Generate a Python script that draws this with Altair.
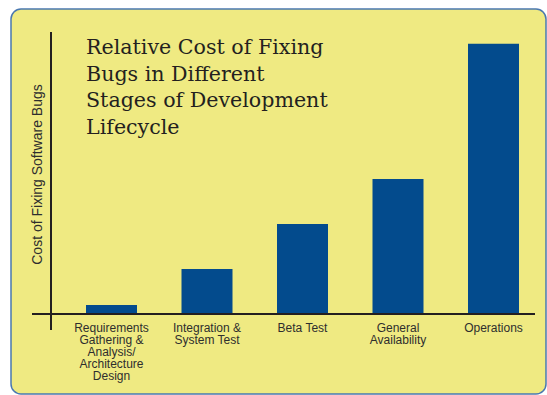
import altair as alt
import pandas as pd

# ---- data ----
STAGES = [
    "Requirements\nGathering &\nAnalysis/\nArchitecture\nDesign",
    "Integration &\nSystem Test",
    "Beta Test",
    "General\nAvailability",
    "Operations",
]
RELATIVE_COST = [1, 5, 10, 15, 30]
TITLE_LINES = [
    "Relative Cost of Fixing",
    "Bugs in Different",
    "Stages of Development",
    "Lifecycle",
]
Y_TITLE = "Cost of Fixing Software Bugs"

df = pd.DataFrame({"stage": STAGES, "cost": RELATIVE_COST})

YELLOW = "#EFEA82"
BAR_BLUE = "#034B8D"
BORDER_BLUE = "#4A78B0"
INK = "#231F20"
LABEL = "#2E2E2E"
SANS = "Liberation Sans, Arial, sans-serif"

W, H = 484, 281

panel = alt.Chart(pd.DataFrame({"p": [0]})).mark_rect(
    fill=YELLOW, stroke=BORDER_BLUE, strokeWidth=1.5, cornerRadius=10
).encode(
    x=alt.value(-40), x2=alt.value(495), y=alt.value(-24), y2=alt.value(361)
)

bars = alt.Chart(df).mark_bar(color=BAR_BLUE).encode(
    x=alt.X(
        "stage:N",
        sort=STAGES,
        scale=alt.Scale(range=[35, 468], paddingInner=0.466, paddingOuter=0),
        axis=alt.Axis(
            title=None,
            domain=False,
            ticks=False,
            grid=False,
            labelAngle=0,
            labelAlign="center",
            labelBaseline="top",
            labelPadding=8,
            labelLineHeight=12,
            labelFont=SANS,
            labelFontSize=12,
            labelColor=LABEL,
            labelOverlap=False,
            labelLimit=300,
            labelExpr="split(datum.label, '\\n')",
            zindex=2,
        ),
    ),
    y=alt.Y(
        "cost:Q",
        scale=alt.Scale(domain=[0, 31.2], nice=False, zero=True),
        axis=alt.Axis(
            title=Y_TITLE,
            domain=False,
            ticks=False,
            labels=False,
            grid=False,
            titleX=-14,
            titleY=141,
            titleAngle=-90,
            titleAlign="center",
            titleBaseline="middle",
            titleFont=SANS,
            titleFontSize=14,
            titleFontWeight="normal",
            titleColor=LABEL,
            zindex=2,
        ),
    ),
)

x_axis_line = alt.Chart(pd.DataFrame({"a": [0]})).mark_rule(
    color=INK, strokeWidth=2
).encode(x=alt.value(-19), x2=alt.value(W), y=alt.value(H))

y_axis_line = alt.Chart(pd.DataFrame({"a": [0]})).mark_rule(
    color=INK, strokeWidth=2
).encode(x=alt.value(0), y=alt.value(-1), y2=alt.value(297))

title = alt.Chart(pd.DataFrame({"t": [0]})).mark_text(
    text=TITLE_LINES,
    font="DejaVu Serif",
    fontSize=20.6,
    lineHeight=26.7,
    align="left",
    baseline="alphabetic",
    color=INK,
).encode(x=alt.value(35), y=alt.value(21))

chart = alt.layer(panel, bars, x_axis_line, y_axis_line, title).properties(
    width=W,
    height=H,
    autosize=alt.AutoSizeParams(type="none"),
    padding={"left": 51, "top": 33, "right": 12, "bottom": 81},
    background="white",
).configure_view(stroke=None)

chart.save("out.html", embed_options={"renderer": "svg", "actions": False})
